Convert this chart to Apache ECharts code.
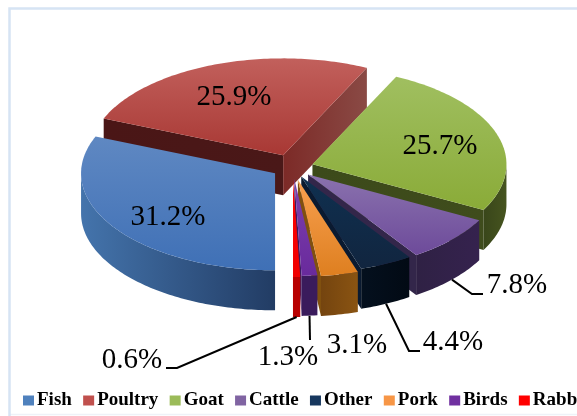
<!DOCTYPE html>
<html><head><meta charset="utf-8">
<style>html,body{margin:0;padding:0;background:#fff;overflow:hidden}#c{width:577px;height:416px}</style>
<script src="https://cdn.jsdelivr.net/npm/echarts@6/dist/echarts.min.js"></script>
</head><body><div id="c"></div>
<script>
// ---- data ----
const categories = ['Fish','Poultry','Goat','Cattle','Other','Pork','Birds','Rabbit'];
const shares = [31.2,25.9,25.7,7.8,4.4,3.1,1.3,0.6];

// ---- style & layout ----
const legendColors = ['#4f81bd','#c0504d','#9bbb59','#8064a2','#17375e','#f79646','#7030a0','#ff0000'];
const topColors = [['#5f88c2','#3f70b6'],['#c2605c','#a83834'],['#a0bf60','#8aab38'],['#8a72ae','#6d4a9a'],['#0f3050','#11253f'],['#f8a050','#de7f20'],['#7d40ae','#692a9c'],['#ff0000','#f00000']];
const arcColors = [['#4474ac','#223c64'],['#7a2a26','#7a2a26'],['#39461a','#46541f'],['#2f2144','#35224e'],['#04101e','#020a14'],['#74440f','#8a5412'],['#3a1b5c','#3a1b5c'],['#b80000','#b80000']];
const startCut = [null,['#4a1616','#4a1818'],null,null,null,null,null,null];
const endCut = [null,['#7c2a27','#8a4a45'],['#3c4a1a','#3f4c1c'],['#33264a','#33264a'],['#0a1a30','#0a1a30'],['#80500f','#80500f'],['#3d1a5e','#3d1a5e'],['#c00000','#c00000']];
const explode = [21,26,21,21,20,25,23,25];
const paintOrder = [5,0,1,2,3,4,6,7];
const labelPos = [[168,217],[234,97],[440,146],[517,285],[453,342],[357,345],[288,357],[132,360]];
const leaderMid = [null,null,null,[[472,294],[483,294]],[[409,351],[420,351]],null,[[310,340]],[[177,368],[166,368]]];
const center = [292.5,167.5], rx = 194, ry = 97, depth = 40, flat = ry / rx;

const rad = d => d * Math.PI / 180;
const total = shares.reduce((a, b) => a + b, 0);
let acc = 180;
const spans = shares.map(v => {
  if (acc >= 360) acc -= 360;
  const a = acc; acc += v / total * 360; return [a, acc];
});

function sliceGeom(i) {
  const [a, b] = spans[i], m = (a + b) / 2, e = explode[i];
  const ax = center[0] + e * Math.sin(rad(m)), ay = center[1] - e * flat * Math.cos(rad(m));
  const pt = d => [ax + rx * Math.sin(rad(d)), ay - ry * Math.cos(rad(d))];
  return { a, b, m, ax, ay, pt };
}
const grad = (c, x, y, x2, y2) => ({ type: 'linear', x, y, x2, y2, colorStops: [{ offset: 0, color: c[0] }, { offset: 1, color: c[1] }] });

function renderSlice(params) {
  const i = params.seriesIndex, g = sliceGeom(i), kids = [];
  const down = p => [p[0], p[1] + depth];
  const arc = [];
  for (let d = g.a; d < g.b; d += 1) arc.push(g.pt(d));
  arc.push(g.pt(g.b));
  const apex = [g.ax, g.ay];
  const cut = (p, c) => kids.push({ type: 'polygon',
    shape: { points: [apex, p, down(p), down(apex)] }, style: { fill: grad(c, 0, 0, 1, 0) } });
  if (startCut[i]) cut(g.pt(g.a), startCut[i]);
  if (endCut[i]) cut(g.pt(g.b), endCut[i]);
  // outer wall: only the part that faces the viewer
  const vis = [];
  const lo = Math.max(g.a, 90), hi = Math.min(g.b, 270);
  if (hi > lo) {
    for (let d = lo; d < hi; d += 1) vis.push(g.pt(d));
    vis.push(g.pt(hi));
    kids.push({ type: 'polygon', shape: { points: vis.concat(vis.map(down).reverse()) },
      style: { fill: grad(arcColors[i], 0, 0, 1, 0) } });
  }
  kids.push({ type: 'polygon', shape: { points: [apex].concat(arc) },
    style: { fill: grad(topColors[i], 0, 0, 0, 1) } });
  if (leaderMid[i]) {
    const s = g.pt(g.m);
    kids.push({ type: 'polyline', shape: { points: [down(s)].concat(leaderMid[i]) },
      style: { stroke: '#000', lineWidth: 2, fill: 'none' } });
  }
  kids.push({ type: 'text', style: { text: shares[i].toFixed(1) + '%', x: labelPos[i][0], y: labelPos[i][1],
    fill: '#000', font: '29px "Liberation Serif"', align: 'center', verticalAlign: 'middle' } });
  return { type: 'group', children: kids };
}

const chart = echarts.init(document.getElementById('c'), null, { renderer: 'canvas' });
chart.setOption({
  animation: false,
  backgroundColor: '#fff',
  graphic: [
    { type: 'line', shape: { x1: 9, y1: 414.5, x2: 577, y2: 414.5 }, style: { stroke: '#eef2f8', lineWidth: 1.5 }, z: 0 },
    { type: 'polyline', shape: { points: [[9.5, 416], [9.5, 8.5], [577, 8.5]] }, style: { stroke: '#d6e4f4', lineWidth: 2.5, fill: 'none' }, z: 0 }
  ],
  legend: {
    data: categories, left: 23, top: 391, width: 800, orient: 'horizontal', padding: 0,
    itemWidth: 11, itemHeight: 10, itemGap: 11.3, icon: 'rect',
    textStyle: { fontFamily: 'Liberation Serif', fontWeight: 'bold', fontSize: 19, color: '#000', padding: [0, 0, 0, -2] },
    selectedMode: false
  },
  series: categories.map((name, i) => ({
    type: 'custom', name, coordinateSystem: 'none', z: 2 + paintOrder[i],
    itemStyle: { color: legendColors[i] }, renderItem: renderSlice, data: [[shares[i]]], silent: true
  }))
});
</script></body></html>
